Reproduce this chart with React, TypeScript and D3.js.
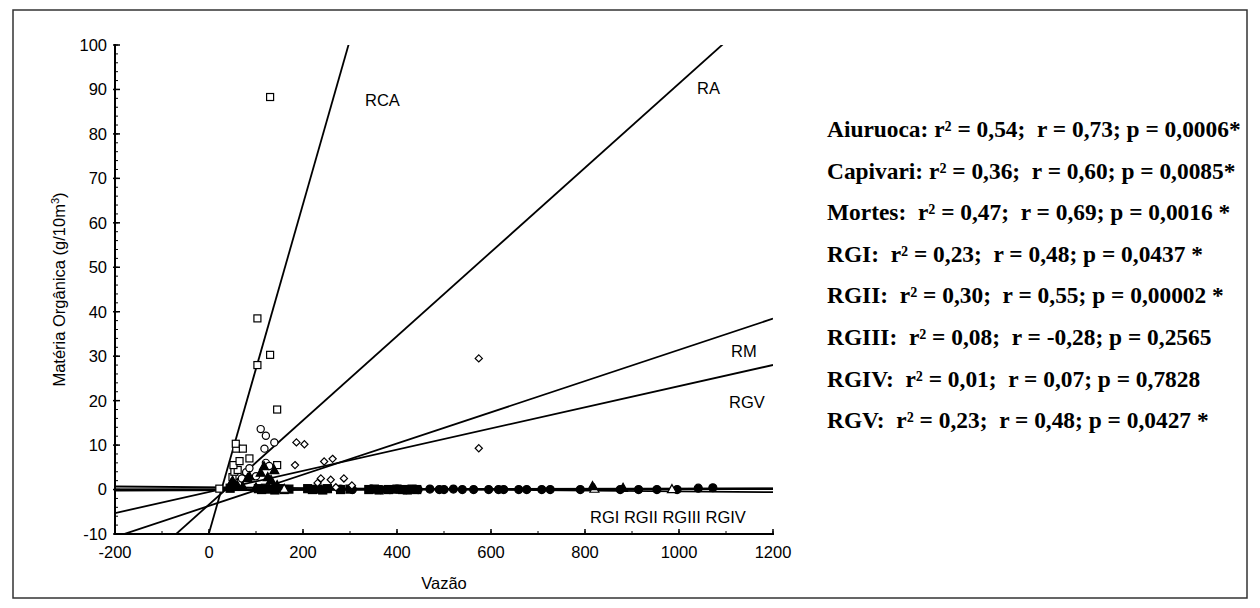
import React from "react";
import * as d3 from "d3";

// ---- data ----
const xTicks = [-200, 0, 200, 400, 600, 800, 1000, 1200];
const yTicks = [-10, 0, 10, 20, 30, 40, 50, 60, 70, 80, 90, 100];

const lineNames = ["RCA", "RA", "RM", "RGV", "RGI", "RGII", "RGIII", "RGIV"];
const lineSlopes = [0.37, 0.0947, 0.0351, 0.0238, 0.0002, 0.0003, -0.0009, 0.00005];
const lineIntercepts = [-9.8, -3.37, -3.67, -0.54, 0.0, -0.15, 0.5, 0.05];

const capivariPts: [number, number][] = [
  [22, 0.2], [50, 2.8], [54, 4], [61, 4.4], [52, 5.5], [65, 6.4], [86, 7], [58, 9.2],
  [57, 10.3], [72, 9.2], [145, 5.5], [145, 18], [103, 28], [103, 38.5], [130, 30.3], [130, 88.3],
];
const aiuruocaPts: [number, number][] = [
  [62, 1.5], [70, 2.5], [79, 3.9], [86, 4.8], [100, 3], [121, 6], [128, 5.3], [118, 9.2],
  [139, 10.6], [121, 12.1], [110, 13.6],
];
const mortesPts: [number, number][] = [
  [183, 5.5], [186, 10.6], [203, 10.2], [231, 1.5], [238, 2.5], [245, 6.3], [259, 2.2],
  [263, 6.9], [270, 0.5], [287, 2.5], [304, 0.9], [574, 29.5], [574, 9.3],
];
const rgiPts: [number, number][] = [
  [47, 1.4], [50, 2.0], [60, 1.0], [72, 0.7], [82, 2.6], [86, 3.0], [110, 3.8], [117, 5.3],
  [125, 2.8], [132, 2.2], [139, 4.4], [145, 1.0], [100, 0.5], [816, 0.8], [881, 0.4],
];
const rgiiPts: [number, number][] = [
  [45, 0.3], [105, 0.2], [112, 0.0], [120, 0.3], [130, 0.1], [140, -0.1], [150, 0.2], [160, 0.0],
  [170, 0.1], [210, 0.2], [220, 0.0], [232, 0.1], [242, -0.1], [252, 0.2], [280, 0.0], [300, 0.1],
  [340, 0.0], [352, 0.1], [362, -0.1], [382, 0.0], [400, 0.1], [412, 0.0], [422, -0.1], [432, 0.1], [442, 0.0],
];
const rgiiiPts: [number, number][] = [
  [280, 0.1], [305, 0.0], [345, 0.1], [365, 0.0], [385, 0.0], [400, 0.1], [420, 0.0], [445, 0.0],
  [470, 0.1], [490, 0.0], [500, 0.0], [520, 0.1], [539, 0.0], [563, 0.0], [595, 0.0], [616, 0.0],
  [627, 0.0], [659, 0.0], [676, 0.0], [708, 0.0], [726, 0.0], [790, 0.0], [875, 0.0], [914, 0.0],
  [953, 0.0], [996, 0.0], [1041, 0.3], [1072, 0.4],
];
const rgivPts: [number, number][] = [[985, 0.1], [820, 0.2], [160, 0.2]];

const statLines = [
  "Aiuruoca: r\u00b2 = 0,54;  r = 0,73; p = 0,0006*",
  "Capivari: r\u00b2 = 0,36;  r = 0,60; p = 0,0085*",
  "Mortes:  r\u00b2 = 0,47;  r = 0,69; p = 0,0016 *",
  "RGI:  r\u00b2 = 0,23;  r = 0,48; p = 0,0437 *",
  "RGII:  r\u00b2 = 0,30;  r = 0,55; p = 0,00002 *",
  "RGIII:  r\u00b2 = 0,08;  r = -0,28; p = 0,2565",
  "RGIV:  r\u00b2 = 0,01;  r = 0,07; p = 0,7828",
  "RGV:  r\u00b2 = 0,23;  r = 0,48; p = 0,0427 *",
];

// ---- layout ----
const W = 1260;
const H = 608;
const X0 = 115, X1 = 773, Y0 = 534, Y1 = 45;
const SANS = "'Liberation Sans', Arial, sans-serif";
const SERIF = "'Liberation Serif', 'Times New Roman', serif";

export default function App() {
  const x = d3.scaleLinear().domain([-200, 1200]).range([X0, X1]);
  const y = d3.scaleLinear().domain([-10, 100]).range([Y0, Y1]);
  const line = d3.line<[number, number]>().x((d) => x(d[0])).y((d) => y(d[1]));

  const xMinor = d3.range(-200, 1201, 100);
  const yMinor = d3.range(-10, 101, 2);

  const sq = (d: [number, number], i: number, filled: boolean, s = 7) => (
    <rect key={i} x={x(d[0]) - s / 2} y={y(d[1]) - s / 2} width={s} height={s}
      fill={filled ? "#000" : "#fff"} stroke="#000" strokeWidth={1.2} />
  );
  const circ = (d: [number, number], i: number, filled: boolean, r = 3.6) => (
    <circle key={i} cx={x(d[0])} cy={y(d[1])} r={r}
      fill={filled ? "#000" : "#fff"} stroke="#000" strokeWidth={1.2} />
  );
  const diam = (d: [number, number], i: number) => {
    const cx = x(d[0]), cy = y(d[1]), r = 3.6;
    return <path key={i} d={`M${cx},${cy - r}L${cx + r},${cy}L${cx},${cy + r}L${cx - r},${cy}Z`}
      fill="#fff" stroke="#000" strokeWidth={1.2} />;
  };
  const tri = (d: [number, number], i: number, filled: boolean) => {
    const cx = x(d[0]), cy = y(d[1]), r = 4.5;
    return <path key={i} d={`M${cx},${cy - r}L${cx + r},${cy + r * 0.8}L${cx - r},${cy + r * 0.8}Z`}
      fill={filled ? "#000" : "#fff"} stroke="#000" strokeWidth={1.2} />;
  };

  return (
    <svg width={W} height={H} style={{ position: "fixed", left: 0, top: 0, background: "#fff" }}>
      <rect x={0} y={0} width={W} height={H} fill="#fff" />
      <rect x={13} y={10} width={1234} height={588} fill="none" stroke="#333" strokeWidth={1.5} />
      <defs>
        <clipPath id="plotclip">
          <rect x={X0} y={Y1} width={X1 - X0} height={Y0 - Y1} />
        </clipPath>
      </defs>

      {/* regression lines */}
      <g clipPath="url(#plotclip)">
        {lineNames.map((n, i) => (
          <path key={n} d={line([[-200, lineSlopes[i] * -200 + lineIntercepts[i]], [1200, lineSlopes[i] * 1200 + lineIntercepts[i]]])!}
            fill="none" stroke="#000" strokeWidth={1.8} />
        ))}
      </g>

      {/* points */}
      <g>
        {rgiiiPts.map((d, i) => circ(d, i, true, 4))}
        {rgiiPts.map((d, i) => sq(d, i, true, 8))}
        {rgivPts.map((d, i) => tri(d, i, false))}
        {mortesPts.map((d, i) => diam(d, i))}
        {capivariPts.map((d, i) => sq(d, i, false))}
        {aiuruocaPts.map((d, i) => circ(d, i, false))}
        {rgiPts.map((d, i) => tri(d, i, true))}
      </g>

      {/* axes */}
      <line x1={X0} y1={Y1 - 1} x2={X0} y2={Y0 + 1} stroke="#000" strokeWidth={2} />
      <line x1={X0 - 1} y1={Y0} x2={X1 + 1} y2={Y0} stroke="#000" strokeWidth={2} />
      {yMinor.map((v) => (
        <line key={"ym" + v} x1={X0} x2={X0 + 3} y1={y(v)} y2={y(v)} stroke="#000" strokeWidth={1} />
      ))}
      {yTicks.map((v) => (
        <g key={"yt" + v}>
          <line x1={X0 - 2} x2={X0 + 5} y1={y(v)} y2={y(v)} stroke="#000" strokeWidth={1.5} />
          <text x={107} y={y(v)} dy="0.36em" textAnchor="end" fontFamily={SANS} fontSize={16.5}>{v}</text>
        </g>
      ))}
      {xMinor.map((v) => (
        <line key={"xm" + v} x1={x(v)} x2={x(v)} y1={Y0} y2={Y0 - 3} stroke="#000" strokeWidth={1} />
      ))}
      {xTicks.map((v) => (
        <g key={"xt" + v}>
          <line x1={x(v)} x2={x(v)} y1={Y0} y2={Y0 - 5} stroke="#000" strokeWidth={1.5} />
          <text x={x(v)} y={552} dy="0.36em" textAnchor="middle" fontFamily={SANS} fontSize={16.5}>{v}</text>
        </g>
      ))}

      <text x={(X0 + X1) / 2} y={583} dy="0.36em" textAnchor="middle" fontFamily={SANS} fontSize={16.5}>Vazão</text>
      <text transform={`translate(59,${(Y0 + Y1) / 2}) rotate(-90)`} textAnchor="middle" fontFamily={SANS} fontSize={16.5} dy="0.36em">
        Matéria Orgânica (g/10m<tspan dy="-6" fontSize={11}>3</tspan><tspan dy="6">)</tspan>
      </text>

      {/* line labels */}
      <text x={365} y={106} fontFamily={SANS} fontSize={16.5}>RCA</text>
      <text x={697} y={94} fontFamily={SANS} fontSize={16.5}>RA</text>
      <text x={731} y={357} fontFamily={SANS} fontSize={16.5}>RM</text>
      <text x={729} y={408} fontFamily={SANS} fontSize={16.5}>RGV</text>
      <text x={590} y={523} fontFamily={SANS} fontSize={16.5}>RGI RGII RGIII RGIV</text>

      {/* statistics */}
      {statLines.map((s, i) => (
        <text key={i} x={827} y={137 + 41.6 * i} fontFamily={SERIF} fontWeight="bold" fontSize={23.4}
          style={{ whiteSpace: "pre" }} xmlSpace="preserve">{s}</text>
      ))}
    </svg>
  );
}
